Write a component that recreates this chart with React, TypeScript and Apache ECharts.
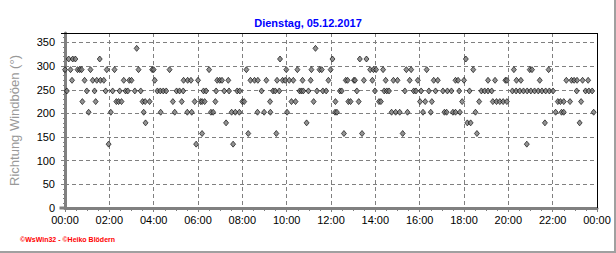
import React, { useEffect, useRef } from "react";
import * as echarts from "echarts";

const titleText = "Dienstag, 05.12.2017";
const yAxisName = "Richtung Windböen (°)";
const footerText = "©WsWin32 - ©Heiko Blödern";
const xTickMinutes = [0, 120, 240, 360, 480, 600, 720, 840, 960, 1080, 1200, 1320, 1440];
const xTickLabels = ["00:00", "02:00", "04:00", "06:00", "08:00", "10:00", "12:00", "14:00", "16:00", "18:00", "20:00", "22:00", "00:00"];

// Direction classes (degrees) and the minutes of the day at which each was recorded
const directions = [337.5, 315, 292.5, 270, 247.5, 225, 202.5, 180, 157.5, 135];
const t337 = [194, 678];
const t315 = [10, 21, 28, 94, 582, 724, 798, 816, 1085];
const t292 = [0, 15, 34, 40, 45, 69, 113, 134, 199, 236, 240, 283, 390, 491, 599, 629, 667, 689, 695, 719, 826, 835, 842, 861, 924, 937, 979, 1105, 1215, 1258, 1264, 1309];
const t270 = [19, 53, 75, 86, 96, 105, 159, 174, 180, 243, 321, 332, 341, 360, 412, 419, 425, 442, 502, 513, 522, 545, 574, 589, 596, 607, 618, 643, 665, 713, 760, 765, 782, 785, 809, 832, 868, 889, 900, 933, 955, 998, 1009, 1057, 1064, 1080, 1145, 1164, 1192, 1196, 1222, 1234, 1285, 1357, 1371, 1378, 1386, 1401, 1416];
const t247 = [5, 59, 80, 110, 129, 148, 164, 170, 189, 205, 250, 258, 266, 274, 302, 310, 320, 375, 382, 409, 431, 444, 466, 473, 532, 563, 569, 580, 635, 640, 645, 659, 682, 698, 707, 744, 749, 790, 839, 864, 871, 877, 920, 944, 950, 964, 985, 1003, 1023, 1035, 1046, 1067, 1095, 1127, 1136, 1145, 1155, 1211, 1221, 1231, 1241, 1251, 1261, 1271, 1281, 1291, 1301, 1311, 1321, 1385, 1409, 1418, 1427];
const t225 = [47, 83, 139, 145, 153, 210, 217, 229, 292, 316, 351, 367, 371, 378, 407, 480, 485, 555, 613, 624, 673, 732, 767, 773, 795, 850, 855, 961, 975, 993, 1075, 1121, 1158, 1168, 1177, 1186, 1196, 1334, 1341, 1350, 1367, 1397];
const t202 = [64, 124, 213, 259, 297, 331, 343, 395, 401, 451, 461, 472, 521, 539, 556, 601, 731, 736, 884, 895, 906, 927, 969, 990, 1027, 1033, 1050, 1057, 1069, 1111, 1328, 1344, 1350, 1431];
const t180 = [218, 436, 654, 1089, 1098, 1299, 1393];
const t157 = [371, 496, 572, 755, 804, 914, 1115];
const t135 = [118, 355, 455, 1250];

const timesByDirection = [t337, t315, t292, t270, t247, t225, t202, t180, t157, t135];

export default function App() {
  const ref = useRef<HTMLDivElement>(null);

  useEffect(() => {
    if (!ref.current) return;
    const chart = echarts.init(ref.current, null, { renderer: "svg" });

    const points: number[][] = [];
    directions.forEach((d, i) => {
      timesByDirection[i].forEach((t) => points.push([t, d]));
    });
    points.sort((a, b) => a[0] - b[0]);

    const gray = "#808080";
    const font = "Arial, 'Liberation Sans', sans-serif";

    chart.setOption({
      animation: false,
      backgroundColor: "#ffffff",
      title: {
        text: titleText,
        left: "center",
        top: 12,
        textStyle: { color: "#0000ff", fontSize: 11, fontWeight: "bold", fontFamily: font },
      },
      grid: { left: 64, right: 19, top: 33, bottom: 45, containLabel: false },
      xAxis: {
        type: "value",
        min: 0,
        max: 1440,
        interval: 120,
        axisLine: { show: true, lineStyle: { color: gray, width: 3 } },
        axisTick: { show: true, length: 4, lineStyle: { color: gray } },
        minorTick: { show: true, splitNumber: 4, length: 3, lineStyle: { color: gray } },
        axisLabel: {
          margin: 6,
          color: "#000",
          fontSize: 11,
          fontFamily: font,
          formatter: (v: number) => {
            const idx = xTickMinutes.indexOf(v);
            return idx >= 0 ? xTickLabels[idx] : "";
          },
        },
        splitLine: { show: true, lineStyle: { color: gray, type: [4, 3], width: 1 } },
      },
      yAxis: {
        type: "value",
        min: 0,
        max: 370,
        interval: 50,
        offset: 3,
        name: yAxisName,
        nameLocation: "middle",
        nameGap: 41,
        nameTextStyle: { color: "#999999", fontSize: 13, fontFamily: font },
        axisLine: { show: true, lineStyle: { color: gray, width: 3 } },
        axisTick: { show: true, length: 4, lineStyle: { color: gray } },
        minorTick: { show: true, splitNumber: 5, length: 2, lineStyle: { color: gray } },
        axisLabel: { margin: 7, color: "#000", fontSize: 11, fontFamily: font, showMaxLabel: false },
        splitLine: { show: true, lineStyle: { color: gray, type: [4, 3], width: 1 } },
      },
      graphic: [
        { type: "line", shape: { x1: 61, y1: 33.5, x2: 597, y2: 33.5 }, style: { stroke: "#000", lineWidth: 1 }, z: 10 },
        { type: "line", shape: { x1: 597.5, y1: 33, x2: 597.5, y2: 208 }, style: { stroke: "#000", lineWidth: 1 }, z: 10 },
        { type: "line", shape: { x1: 59.5, y1: 208, x2: 65, y2: 208 }, style: { stroke: gray, lineWidth: 3 }, z: 10 },
        { type: "line", shape: { x1: 615, y1: 0, x2: 615, y2: 253 }, style: { stroke: "#a0a0a0", lineWidth: 2 }, z: 10 },
        { type: "line", shape: { x1: 0, y1: 252, x2: 616, y2: 252 }, style: { stroke: "#a0a0a0", lineWidth: 2 }, z: 10 },
        {
          type: "text",
          left: 20,
          top: 236,
          style: { text: footerText, fill: "#ff0000", fontSize: 7, fontWeight: "bold", fontFamily: font },
        },
      ],
      series: [
        {
          type: "scatter",
          data: points,
          symbol: "diamond",
          symbolSize: [5, 6],
          itemStyle: { color: "#777777", borderColor: "#000000", borderWidth: 0.8 },
          z: 5,
        },
      ],
    });

    return () => chart.dispose();
  }, []);

  return (
    <div
      ref={ref}
      style={{ position: "absolute", left: 0, top: 0, width: 616, height: 253, background: "#fff" }}
    />
  );
}
